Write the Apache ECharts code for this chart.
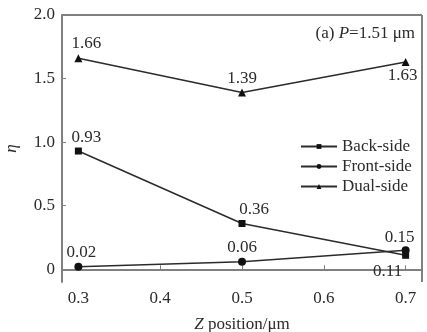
<!DOCTYPE html>
<html>
<head>
<meta charset="utf-8">
<script src="https://cdn.jsdelivr.net/npm/echarts@6/dist/echarts.min.js"></script>
<style>
  html, body { margin: 0; padding: 0; background: #fff; }
  #chart { width: 427px; height: 332px; }
</style>
</head>
<body>
<div id="chart"></div>
<script>
const zPos = [0.3, 0.5, 0.7];
const backSide = [0.93, 0.36, 0.11];
const frontSide = [0.02, 0.06, 0.15];
const dualSide = [1.66, 1.39, 1.63];
const xTicks = [0.3, 0.4, 0.5, 0.6, 0.7];
const yTicks = [0, 0.5, 1.0, 1.5, 2.0];

const FONT = "Liberation Serif";
const INK = "#2b2b2b";
const AXIS = "#808080";

const pairs = (vals) => zPos.map((z, i) => [z, vals[i]]);

const myChart = echarts.init(document.getElementById("chart"));

const labelBase = {
  show: true,
  position: "top",
  distance: 2,
  fontFamily: FONT,
  fontSize: 17,
  color: INK,
  formatter: (p) => p.value[1].toFixed(2),
};

const option = {
  animation: false,
  textStyle: { fontFamily: FONT },
  grid: { left: 62, right: 5, top: 15, bottom: 50, outerBoundsMode: "none" },
  title: {
    text: "(a) {i|P}=1.51 μm",
    right: 7,
    top: 20,
    textStyle: {
      fontFamily: FONT,
      fontSize: 17,
      fontWeight: "normal",
      color: INK,
      rich: { i: { fontFamily: FONT, fontStyle: "italic", fontSize: 17, color: INK } },
    },
  },
  legend: {
    orient: "vertical",
    left: 295,
    top: 133,
    itemWidth: 36,
    itemHeight: 6,
    itemGap: 3,
    textStyle: { fontFamily: FONT, fontSize: 17, color: INK },
    data: ["Back-side", "Front-side", "Dual-side"],
  },
  xAxis: {
    type: "value",
    min: 0.28,
    max: 0.72,
    interval: 0.02,
    name: "{i|Z} position/μm",
    nameLocation: "middle",
    nameGap: 34,
    nameTextStyle: {
      fontFamily: FONT,
      fontSize: 17,
      color: INK,
      rich: { i: { fontFamily: FONT, fontStyle: "italic", fontSize: 17, color: INK } },
    },
    axisLine: { lineStyle: { color: AXIS, width: 2 } },
    axisTick: { inside: true, length: 4, customValues: xTicks, lineStyle: { color: AXIS } },
    axisLabel: {
      fontFamily: FONT,
      fontSize: 17,
      color: INK,
      margin: 8,
      customValues: xTicks,
      formatter: (v) => v.toFixed(1),
    },
    splitLine: { show: false },
  },
  yAxis: {
    type: "value",
    min: -0.1,
    max: 2.0,
    interval: 0.1,
    name: "η",
    nameLocation: "middle",
    nameRotate: 90,
    nameGap: 42,
    nameTextStyle: { fontFamily: FONT, fontStyle: "italic", fontSize: 17, color: INK },
    axisLine: { lineStyle: { color: AXIS, width: 2 } },
    axisTick: { inside: true, length: 4, customValues: yTicks, lineStyle: { color: AXIS } },
    axisLabel: {
      fontFamily: FONT,
      fontSize: 17,
      color: INK,
      margin: 7,
      customValues: yTicks,
      formatter: (v) => (v === 0 ? "0" : v.toFixed(1)),
    },
    splitLine: { show: false },
  },
  series: [
    {
      name: "Back-side",
      type: "line",
      symbol: "rect",
      symbolSize: 7,
      data: pairs(backSide),
      lineStyle: { color: INK, width: 1.5 },
      itemStyle: { color: "#111" },
      label: labelBase,
      labelLayout: (p) =>
        p.dataIndex === 2 ? { dy: 30, dx: -18 } : p.dataIndex === 1 ? { dx: 12 } : { dx: 8 },
    },
    {
      name: "Front-side",
      type: "line",
      symbol: "circle",
      symbolSize: 8,
      data: pairs(frontSide),
      lineStyle: { color: INK, width: 1.5 },
      itemStyle: { color: "#111" },
      label: labelBase,
      labelLayout: (p) => (p.dataIndex === 2 ? { dx: -6, dy: 2 } : p.dataIndex === 0 ? { dx: 3 } : {}),
    },
    {
      name: "Dual-side",
      type: "line",
      symbol: "triangle",
      symbolSize: 8,
      data: pairs(dualSide),
      lineStyle: { color: INK, width: 1.5 },
      itemStyle: { color: "#111" },
      label: labelBase,
      labelLayout: (p) => (p.dataIndex === 2 ? { dy: 28, dx: -3 } : p.dataIndex === 0 ? { dx: 8 } : {}),
    },
    {
      // frame: top and right border
      type: "line",
      silent: true,
      symbol: "none",
      data: [],
      markLine: {
        silent: true,
        symbol: "none",
        label: { show: false },
        lineStyle: { color: AXIS, width: 2, type: "solid" },
        data: [{ yAxis: 2.0 }, { xAxis: 0.72 }],
      },
    },
  ],
};

myChart.setOption(option);
</script>
</body>
</html>
